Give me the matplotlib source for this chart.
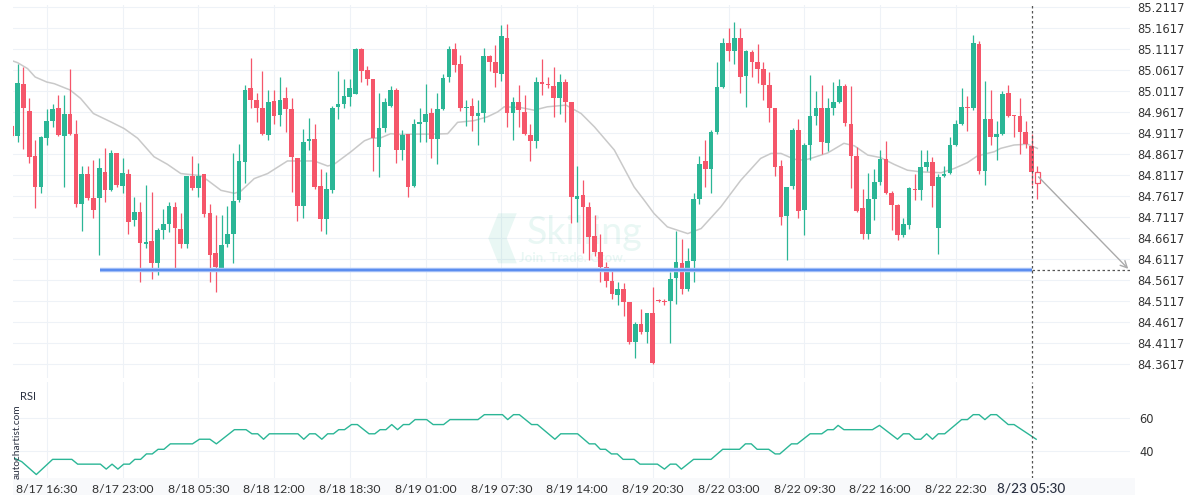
import matplotlib
matplotlib.use('Agg')
import matplotlib.pyplot as plt
from matplotlib.patches import Polygon, Rectangle
import numpy as np

# 30 minute candles (index 0 = first candle on the left)
opens = [84.928, 84.905, 85.028, 84.964, 84.856, 84.783, 84.900, 84.940, 84.972, 84.905,
         84.956, 84.909, 84.742, 84.813, 84.756, 84.757, 84.818, 84.775, 84.864, 84.786,
         84.813, 84.704, 84.723, 84.648, 84.654, 84.601, 84.680, 84.694, 84.735, 84.682,
         84.648, 84.809, 84.780, 84.813, 84.720, 84.625, 84.590, 84.648, 84.671, 84.752,
         84.842, 85.018, 84.990, 84.972, 84.906, 84.988, 84.955, 84.996, 84.969, 84.852,
         84.737, 84.893, 84.897, 84.785, 84.707, 84.775, 84.974, 84.980, 84.997, 85.004,
         85.111, 85.061, 85.040, 84.879, 84.923, 84.975, 85.015, 84.871, 84.909, 84.785,
         84.933, 84.937, 84.959, 84.897, 84.968, 85.045, 85.111, 85.076, 84.972, 84.975,
         84.953, 84.959, 85.095, 85.080, 85.052, 85.138, 84.959, 84.985, 84.961, 84.906,
         84.893, 85.033, 85.028, 85.023, 84.995, 85.033, 84.985, 84.755, 84.763, 84.736,
         84.666, 84.628, 84.593, 84.559, 84.526, 84.540, 84.509, 84.414, 84.456, 84.438,
         84.482, 84.513, 84.512, 84.511, 84.567, 84.601, 84.539, 84.607, 84.755, 84.844,
         84.826, 84.914, 85.020, 85.126, 85.107, 85.137, 85.047, 85.105, 85.080, 85.063,
         85.027, 84.971, 84.833, 84.714, 84.785, 84.918, 84.728, 84.883, 84.952, 84.972,
         84.888, 84.972, 84.986, 85.023, 84.933, 84.858, 84.732, 84.672, 84.754, 84.795,
         84.849, 84.769, 84.739, 84.668, 84.693, 84.779, 84.777, 84.831, 84.842, 84.685,
         84.810, 84.817, 84.883, 84.933, 84.974, 84.972, 85.124, 84.822, 84.945, 84.902,
         84.909, 85.006, 84.955, 84.952, 84.914, 84.881, 84.818]

highs = [84.930, 85.077, 85.068, 84.996, 84.896, 84.905, 84.968, 84.980, 85.001, 85.001,
         85.065, 84.942, 84.833, 84.833, 84.848, 84.853, 84.875, 84.870, 84.864, 84.852,
         84.825, 84.759, 84.748, 84.787, 84.770, 84.686, 84.730, 84.747, 84.748, 84.720,
         84.810, 84.858, 84.841, 84.815, 84.742, 84.717, 84.716, 84.737, 84.865, 84.885,
         85.027, 85.091, 85.007, 85.059, 85.015, 85.015, 85.044, 85.020, 84.994, 84.852,
         84.920, 84.947, 84.933, 84.827, 84.818, 84.977, 85.059, 85.041, 85.041, 85.114,
         85.114, 85.072, 85.040, 85.006, 84.996, 85.024, 85.018, 84.918, 84.909, 84.946,
         84.972, 85.029, 84.970, 85.006, 85.053, 85.118, 85.125, 85.097, 84.991, 84.994,
         84.990, 85.115, 85.097, 85.122, 85.170, 85.172, 84.998, 85.026, 85.002, 84.933,
         85.044, 85.087, 85.044, 85.069, 85.052, 85.041, 84.985, 84.833, 84.799, 84.748,
         84.716, 84.672, 84.605, 84.585, 84.556, 84.555, 84.509, 84.462, 84.493, 84.483,
         84.544, 84.515, 84.517, 84.581, 84.678, 84.658, 84.637, 84.769, 84.858, 84.895,
         84.918, 85.081, 85.137, 85.161, 85.175, 85.161, 85.110, 85.109, 85.123, 85.080,
         85.057, 84.972, 84.847, 84.783, 84.924, 84.946, 84.887, 85.050, 85.012, 85.027,
         84.995, 85.034, 85.041, 85.028, 85.023, 84.879, 84.779, 84.817, 84.825, 84.871,
         84.892, 84.773, 84.742, 84.710, 84.783, 84.813, 84.872, 84.872, 84.855, 84.815,
         84.834, 84.901, 84.942, 85.018, 84.999, 85.145, 85.131, 85.035, 85.014, 84.940,
         85.011, 85.026, 84.955, 84.996, 84.940, 84.910, 84.833]

lows = [84.902, 84.891, 84.873, 84.841, 84.732, 84.768, 84.882, 84.926, 84.905, 84.782,
        84.906, 84.736, 84.678, 84.753, 84.710, 84.620, 84.748, 84.774, 84.783, 84.768,
        84.672, 84.691, 84.557, 84.637, 84.563, 84.573, 84.660, 84.676, 84.586, 84.637,
        84.637, 84.775, 84.759, 84.712, 84.557, 84.533, 84.586, 84.641, 84.602, 84.748,
        84.793, 84.972, 84.937, 84.906, 84.896, 84.932, 84.929, 84.913, 84.772, 84.701,
        84.708, 84.871, 84.779, 84.679, 84.670, 84.769, 84.946, 84.970, 84.975, 85.004,
        85.032, 85.027, 84.822, 84.806, 84.914, 84.974, 84.841, 84.847, 84.759, 84.783,
        84.891, 84.891, 84.851, 84.837, 84.966, 85.032, 85.057, 84.964, 84.928, 84.916,
        84.883, 84.938, 85.060, 85.020, 85.036, 84.925, 84.896, 84.926, 84.906, 84.844,
        84.875, 85.002, 85.018, 84.950, 84.958, 84.938, 84.698, 84.700, 84.625, 84.610,
        84.618, 84.557, 84.545, 84.516, 84.501, 84.475, 84.410, 84.375, 84.434, 84.412,
        84.362, 84.509, 84.501, 84.412, 84.505, 84.528, 84.536, 84.557, 84.742, 84.783,
        84.769, 84.909, 85.018, 85.083, 85.077, 85.006, 84.974, 85.045, 85.031, 84.990,
        84.938, 84.810, 84.692, 84.610, 84.779, 84.710, 84.668, 84.847, 84.930, 84.861,
        84.869, 84.954, 84.984, 84.928, 84.781, 84.724, 84.660, 84.660, 84.704, 84.787,
        84.766, 84.680, 84.656, 84.663, 84.683, 84.751, 84.751, 84.822, 84.736, 84.623,
        84.806, 84.813, 84.880, 84.930, 84.916, 84.966, 84.813, 84.787, 84.883, 84.848,
        84.908, 84.949, 84.902, 84.862, 84.877, 84.787, 84.755]

closes = [84.905, 85.030, 84.972, 84.855, 84.783, 84.902, 84.940, 84.968, 84.906, 84.956,
          84.909, 84.742, 84.813, 84.757, 84.729, 84.828, 84.775, 84.864, 84.787, 84.816,
          84.700, 84.723, 84.650, 84.652, 84.601, 84.680, 84.694, 84.737, 84.685, 84.648,
          84.809, 84.780, 84.809, 84.718, 84.621, 84.593, 84.644, 84.671, 84.749, 84.845,
          85.014, 84.991, 84.972, 84.909, 84.985, 84.953, 84.991, 84.969, 84.855, 84.737,
          84.890, 84.897, 84.783, 84.707, 84.778, 84.971, 84.980, 84.999, 85.018, 85.111,
          85.060, 85.040, 84.900, 84.923, 84.985, 85.014, 84.871, 84.907, 84.783, 84.933,
          84.937, 84.956, 84.897, 84.968, 85.042, 85.111, 85.073, 84.970, 84.974, 84.953,
          84.959, 85.095, 85.080, 85.055, 85.142, 84.959, 84.985, 84.966, 84.910, 84.893,
          85.033, 85.028, 85.026, 84.995, 85.033, 84.985, 84.759, 84.761, 84.736, 84.664,
          84.628, 84.593, 84.559, 84.529, 84.540, 84.509, 84.414, 84.456, 84.438, 84.482,
          84.363, 84.512, 84.510, 84.565, 84.605, 84.539, 84.607, 84.755, 84.837, 84.826,
          84.914, 85.020, 85.126, 85.107, 85.137, 85.045, 85.107, 85.080, 85.063, 85.027,
          84.971, 84.831, 84.712, 84.782, 84.918, 84.726, 84.883, 84.952, 84.972, 84.891,
          84.972, 84.986, 85.023, 84.935, 84.858, 84.726, 84.672, 84.754, 84.795, 84.849,
          84.769, 84.739, 84.668, 84.694, 84.781, 84.777, 84.831, 84.843, 84.786, 84.807,
          84.813, 84.883, 84.933, 84.973, 84.972, 85.127, 84.820, 84.945, 84.902, 84.909,
          85.005, 84.953, 84.953, 84.914, 84.885, 84.818, 84.793]

# moving average (grey line), sampled along the chart
ma_idx = [0, 1, 2.7, 4, 6, 7.3, 10, 11.8, 14, 17, 19.3, 21.6, 24.4, 26.7, 29, 32.4, 33.6, 35.9, 38.2, 39.3,
          41.6, 43.9, 47.3, 49.6, 51.9, 54.2, 55.3, 58.2, 60.5, 61.6, 63.3, 65, 66.8, 69, 72.5, 74.8, 76.5, 79.3, 81.6, 83.4,
          84.5, 87.4, 89.6, 91.9, 95.1, 97.7, 100, 103.4, 106.8, 108.5, 110.2, 112.5, 116, 118.3, 121.7, 125.1, 128.5, 130.3, 132, 134.3,
          136, 137.1, 140, 142.8, 144.6, 146.9, 149.1, 151.4, 153.7, 156, 159.5, 161.7, 164, 165.7, 168.6, 169.7, 172, 174.3, 176]
ma_val = [85.084, 85.079, 85.065, 85.045, 85.033, 85.029, 85.014, 84.994, 84.958, 84.938,
          84.922, 84.899, 84.855, 84.837, 84.815, 84.810, 84.799, 84.775, 84.768, 84.773,
          84.803, 84.815, 84.845, 84.845, 84.845, 84.833, 84.837, 84.867, 84.893, 84.899,
          84.900, 84.910, 84.908, 84.909, 84.909, 84.910, 84.937, 84.941, 84.950, 84.962,
          84.974, 84.972, 84.966, 84.974, 84.978, 84.958, 84.926, 84.871, 84.783, 84.752,
          84.720, 84.688, 84.672, 84.684, 84.736, 84.799, 84.851, 84.863, 84.863, 84.849,
          84.847, 84.851, 84.864, 84.887, 84.881, 84.859, 84.853, 84.837, 84.823, 84.819,
          84.817, 84.827, 84.841, 84.857, 84.867, 84.875, 84.883, 84.885, 84.875]

# RSI panel
rsi_idx = [0.5, 1.7, 4.2, 7, 10.3, 11.3, 15.2, 16.2, 17.2, 18.2, 19.2, 20.2, 21.1, 22.1, 23.1, 24.1, 25.1, 26.1, 27.2, 31,
           32.2, 34, 35.1, 38.2, 40.2, 41.2, 42.2, 43.2, 44.2, 49.1, 50.1, 51.1, 52.1, 53.2, 54.2, 55.2, 56.1, 57.1, 58.3, 59.3,
           61.3, 62.3, 63.2, 64.2, 65.2, 66.2, 67.2, 68.2, 69.2, 71.2, 72.3, 74.1, 75.2, 80, 81.1, 84.2, 85.1, 86.1, 87.1, 89.2,
           90.2, 93.2, 94.2, 97.1, 99.1, 100.1, 101, 101.9, 102.9, 103.9, 104.9, 106.8, 107.8, 110.8, 112, 113, 114, 114.9, 117, 120,
           122, 124.9, 125.9, 126.9, 127.9, 129.9, 131, 131.8, 133.8, 134.8, 137, 139, 140, 141, 141.8, 142.8, 147.7, 148.9, 152, 153,
           154, 155, 156, 157, 158, 159, 160.1, 163, 164, 165, 166, 167, 168, 169, 171, 172, 175.8]
rsi_val = [35.5, 33.5, 25.7, 34.9, 34.9, 32, 32, 29, 32, 29, 32, 32, 34.9, 34.9, 38.2, 38.2, 41, 41, 44.3, 44.3,
           47.1, 47.1, 44.3, 52.9, 52.9, 50.4, 50.4, 47.1, 50.4, 50.4, 47.1, 50.4, 50.4, 47.1, 50.4, 50.4, 52.9, 52.9, 56, 56,
           50.4, 50.4, 52.9, 52.9, 56, 52.9, 56, 56, 59, 59, 56, 56, 59, 59, 62, 62, 59, 62, 62, 56,
           56, 47.1, 50.4, 50.4, 44.3, 44.3, 41, 41, 38.2, 38.2, 34.9, 34.9, 32, 32, 29, 32, 32, 29, 34.9, 34.9,
           41, 41, 44.3, 44.3, 41, 41, 38.2, 38.2, 44.3, 44.3, 50.4, 50.4, 52.9, 52.9, 55.5, 52.9, 52.9, 55.5, 47.1, 50.4,
           50.4, 47.1, 47.1, 50.4, 47.1, 50.4, 50.4, 59, 59, 62, 62, 59, 62, 62, 56, 56, 47.1]

# axis labels
price_ticks = [84.3617, 84.4117, 84.4617, 84.5117, 84.5617, 84.6117, 84.6617, 84.7117, 84.7617,
               84.8117, 84.8617, 84.9117, 84.9617, 85.0117, 85.0617, 85.1117, 85.1617, 85.2117]
tick_idx = [6, 19, 32, 45, 58, 71, 84, 97, 110, 123, 136, 149, 162]
tick_labels = ['8/17 16:30', '8/17 23:00', '8/18 05:30', '8/18 12:00', '8/18 18:30', '8/19 01:00',
               '8/19 07:30', '8/19 14:00', '8/19 20:30', '8/22 03:00', '8/22 09:30', '8/22 16:00', '8/22 22:30']
now_idx = 175
now_label = '8/23 05:30'

support_level = 84.586
support_start = 15.2
target_idx = 191.9

green = '#2bb696'
red = '#f5566a'
grid_col = '#eef2f7'
txt_col = '#333333'
navy = '#2a3040'

fig = plt.figure(figsize=(12, 5), dpi=100)

# light band behind the time labels (kept under the axes)
fig.patches.append(Rectangle((13/1200, 5/500), 1122/1200, 17/500, transform=fig.transFigure,
                             facecolor='#f8f9fb', edgecolor='none', zorder=-1))

ax = fig.add_axes([13/1200, 122/500, 1117/1200, 373/500])
rsi_ax = fig.add_axes([13/1200, 22/500, 1117/1200, 96/500], sharex=ax)

for a in (ax, rsi_ax):
    for s in a.spines.values():
        s.set_visible(False)
    a.set_axisbelow(True)
    a.patch.set_alpha(0)

# watermark
ax.add_patch(Polygon([(0.4345, 0.4416), (0.4510, 0.4416), (0.4420, 0.3745),
                      (0.4510, 0.3075), (0.4345, 0.3075), (0.4255, 0.3745)],
                     closed=True, transform=ax.transAxes, facecolor=green, alpha=0.1,
                     edgecolor='none', zorder=1))
ax.text(0.512, 0.389, 'Skilling', transform=ax.transAxes, ha='center', va='center',
        fontsize=27, family='Lato', color=green, alpha=0.1, zorder=1)
ax.text(0.501, 0.322, 'Join. Trade. Grow.', transform=ax.transAxes, ha='center', va='center',
        fontsize=9.5, family='Lato', weight='bold', color=green, alpha=0.1, zorder=1)

# candles
o = np.array(opens)
h = np.array(highs)
l = np.array(lows)
c = np.array(closes)
x = np.arange(len(o))
colors = np.where(c >= o, green, red)
body_low = np.minimum(o, c)
body_h = np.maximum(np.abs(c - o), 0.0015)

ax.vlines(x, l, h, colors=colors, lw=0.9, zorder=3)
ax.bar(x[:-1], body_h[:-1], bottom=body_low[:-1], width=0.8, color=colors[:-1],
       linewidth=0, zorder=4)
# last (still open) candle is drawn hollow
ax.bar(x[-1:], body_h[-1:], bottom=body_low[-1:], width=0.8, facecolor='white',
       edgecolor=colors[-1], linewidth=0.9, zorder=4)

ax.plot(ma_idx, ma_val, color='#c9c9c9', lw=1.1, zorder=2)

# support level and projection
ax.hlines(support_level, support_start, now_idx, color='#a9c4f7', lw=3.2, zorder=5)
ax.hlines(support_level, support_start, now_idx, color='#5b8def', lw=1.6, zorder=5)
ax.hlines(support_level, now_idx, target_idx, color='#555555', lw=0.9,
          linestyles=(0, (2, 2)), zorder=5)
ax.annotate('', xy=(target_idx - 0.3, support_level + 0.002), xytext=(x[-1] + 0.2, closes[-1] + 0.014),
            arrowprops=dict(arrowstyle='->', color='#aaaaaa', lw=1.0, shrinkA=0, shrinkB=0,
                            mutation_scale=12), annotation_clip=False, zorder=6)

for a in (ax, rsi_ax):
    a.axvline(now_idx, color='#555555', lw=0.9, ls=(0, (2, 2)), zorder=6)

ax.set_xlim(0.2, target_idx)
ax.set_ylim(84.328, 85.2165)
ax.set_yticks(price_ticks)
ax.set_yticklabels(['%.4f' % p for p in price_ticks])
ax.yaxis.tick_right()
ax.tick_params(axis='y', length=0, pad=5, labelsize=8.3, labelcolor=txt_col)
ax.tick_params(axis='x', length=0, labelbottom=False)
ax.grid(True, color=grid_col, lw=0.8)

# RSI
rsi_ax.plot(rsi_idx, rsi_val, color=green, lw=1.0)
rsi_ax.set_ylim(23.6, 81.8)
rsi_ax.set_yticks([40, 60])
rsi_ax.set_yticklabels(['40', '60'])
rsi_ax.yaxis.tick_right()
rsi_ax.tick_params(axis='y', length=0, pad=7, labelsize=8.3, labelcolor=txt_col)
rsi_ax.set_xticks(tick_idx)
rsi_ax.set_xticklabels(tick_labels, family='Lato', fontsize=8.8, color=txt_col)
rsi_ax.tick_params(axis='x', length=0, pad=4)
rsi_ax.grid(True, color=grid_col, lw=0.8)
rsi_ax.annotate(now_label, xy=(now_idx, 0), xycoords=('data', 'axes fraction'),
                xytext=(0, -3.5), textcoords='offset points', ha='center', va='top',
                family='Lato', fontsize=9.8, weight='medium', color=navy)
rsi_ax.text(7/1117, (478 - 396)/96, 'RSI', transform=rsi_ax.transAxes, ha='left', va='center',
            fontsize=8, family='Lato', color=navy)

fig.text(17/1200, 1 - 442/500, 'autochartist.com', rotation=90, ha='center', va='center',
         fontsize=7.3, family='Lato', color=navy)

fig.savefig('out.png', dpi=100)
